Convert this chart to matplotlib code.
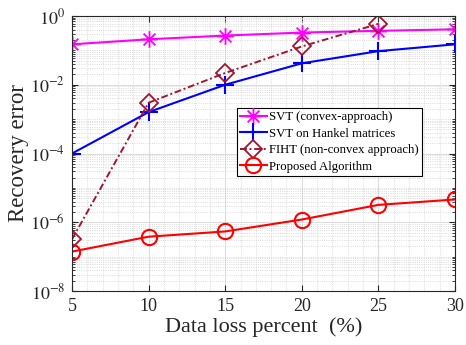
import matplotlib
matplotlib.use("Agg")
import matplotlib.pyplot as plt
from matplotlib.path import Path
from matplotlib.ticker import LogLocator, MultipleLocator, NullFormatter, FixedLocator

x = [5, 10, 15, 20, 25, 30]
x_fiht = [5, 10, 15, 20, 25]
svt_convex = [0.15, 0.21, 0.27, 0.33, 0.37, 0.41]
svt_hankel = [1.0e-4, 1.6e-3, 1.0e-2, 4.2e-2, 9.5e-2, 0.15]
fiht = [3.2e-7, 3.0e-3, 2.2e-2, 0.13, 0.59]
proposed = [1.4e-7, 3.8e-7, 5.4e-7, 1.2e-6, 3.2e-6, 4.6e-6]
labels = ["SVT (convex-approach)", "SVT on Hankel matrices",
          "FIHT (non-convex approach)", "Proposed Algorithm"]

plt.rcParams['font.family'] = ['Liberation Serif', 'DejaVu Serif']
plt.rcParams['mathtext.fontset'] = 'stix'

# MATLAB-style asterisk marker (+ and x combined)
d = 0.7071
ast = Path([(-1, 0), (1, 0), (0, -1), (0, 1), (-d, -d), (d, d), (-d, d), (d, -d)],
           [Path.MOVETO, Path.LINETO] * 4)

fig = plt.figure(figsize=(4.66, 3.45), dpi=100)
ax = fig.add_axes([72/466, 1-291/345, 383/466, 275/345])

ax.semilogy(x, svt_convex, '-', color='#FF00FF', marker=ast, ms=12, mew=1.3, lw=1.5, label=labels[0])
ax.semilogy(x, svt_hankel, '-', color='#0000FF', marker='+', ms=13, mew=1.5, lw=1.5, label=labels[1])
ax.semilogy(x_fiht, fiht, color='#A2142F', marker='D', ms=9, mfc='none', mew=1.3, lw=1.4,
            dashes=(3.5, 1.4, 1.0, 1.4), label=labels[2])
ax.semilogy(x, proposed, '-', color='#FF0000', marker='o', ms=11, mfc='none', mew=1.5, lw=1.5, label=labels[3])

ax.set_xlim(5, 30)
ax.set_ylim(1e-8, 1)
ax.set_xticks(x)
ax.yaxis.set_major_locator(FixedLocator([1e-8, 1e-6, 1e-4, 1e-2, 1]))
ax.yaxis.set_minor_locator(LogLocator(base=10, subs=range(1, 10), numticks=100))
ax.yaxis.set_minor_formatter(NullFormatter())
ax.xaxis.set_minor_locator(MultipleLocator(1))
ax.set_yticklabels([r'$10^{-8}$', r'$10^{-6}$', r'$10^{-4}$', r'$10^{-2}$', r'$10^{0}$'])

ax.grid(True, which='major', color='#dcdcdc', lw=0.8)
ax.grid(True, which='minor', color='#d0d0d0', lw=0.6, ls=':')
ax.set_axisbelow(True)
ax.tick_params(which='both', direction='in', top=True, right=True, labelsize=13, colors='#262626')
ax.tick_params(which='major', length=4, pad=5)
ax.tick_params(which='minor', length=2)
ax.tick_params(axis='x', which='minor', length=0)
for s in ax.spines.values():
    s.set_color('#262626')
    s.set_linewidth(0.8)

ax.set_xlabel('Data loss percent  (%)', fontsize=16, color='#262626', labelpad=2)
ax.set_ylabel('Recovery error', fontsize=16.5, color='#262626', labelpad=1)

leg = ax.legend(loc='upper left', bbox_to_anchor=(0.43, 0.665), fontsize=9.2,
                frameon=True, fancybox=False, edgecolor='black', framealpha=1,
                handlelength=2.1, borderpad=0.25, labelspacing=0.35, handletextpad=0.2,
                borderaxespad=0)
leg.get_frame().set_linewidth(0.8)

fig.savefig('out.png', dpi=100)
